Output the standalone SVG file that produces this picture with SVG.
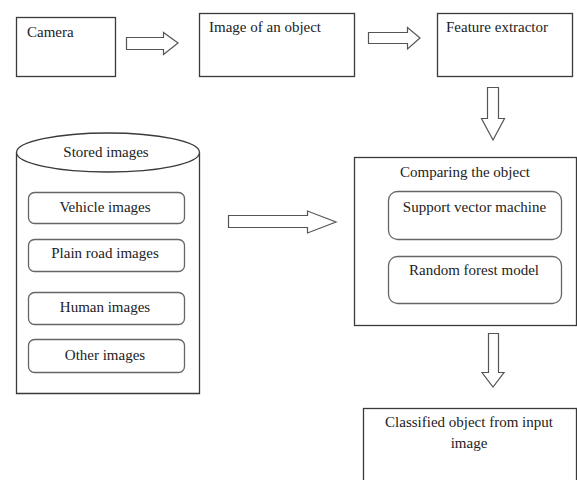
<svg xmlns="http://www.w3.org/2000/svg" width="577" height="480" viewBox="0 0 577 480">
  <style>
    .box { fill: #ffffff; stroke: #3a3a3a; stroke-width: 1.3; }
    .sub { fill: #ffffff; stroke: #666666; stroke-width: 1.3; }
    .arrow { fill: #ffffff; stroke: #555555; stroke-width: 1.2; stroke-linejoin: miter; }
    text { font-family: "Liberation Serif", "Times New Roman", serif; font-size: 15px; fill: #222222; }
    .c { text-anchor: middle; }
  </style>
  <rect width="577" height="480" fill="#ffffff"/>

  <!-- processing chain -->
  <g id="camera">
    <rect class="box" x="16.5" y="17.5" width="99" height="59"/>
    <text x="27" y="37">Camera</text>
  </g>
  <g id="image-of-object">
    <rect class="box" x="199.5" y="13.5" width="155" height="63"/>
    <text x="209" y="32">Image of an object</text>
  </g>
  <g id="feature-extractor">
    <rect class="box" x="437.5" y="13.5" width="135" height="63"/>
    <text x="446" y="32">Feature extractor</text>
  </g>

  <!-- image store drawn as a cylinder -->
  <g id="stored-images">
    <path class="box" d="M16.5,152.5 L16.5,393.5 L199.5,393.5 L199.5,152.5"/>
    <ellipse class="box" cx="108" cy="152.5" rx="91.5" ry="19.5"/>
    <text class="c" x="106" y="157">Stored images</text>
  </g>
  <g id="vehicle-images">
    <rect class="sub" x="28.5" y="192.5" width="156" height="31" rx="6"/>
    <text class="c" x="105" y="212">Vehicle images</text>
  </g>
  <g id="plain-road-images">
    <rect class="sub" x="28.5" y="239.5" width="156" height="32" rx="6"/>
    <text class="c" x="105" y="258">Plain road images</text>
  </g>
  <g id="human-images">
    <rect class="sub" x="28.5" y="292.5" width="156" height="32" rx="6"/>
    <text class="c" x="105" y="312">Human images</text>
  </g>
  <g id="other-images">
    <rect class="sub" x="28.5" y="339.5" width="156" height="33" rx="6"/>
    <text class="c" x="105" y="360">Other images</text>
  </g>

  <!-- comparison stage -->
  <g id="comparing-object">
    <rect class="box" x="354.5" y="157.5" width="222" height="168"/>
    <text class="c" x="465" y="177">Comparing the object</text>
  </g>
  <g id="svm">
    <rect class="sub" x="388.5" y="191.5" width="173" height="48" rx="9"/>
    <text class="c" x="474.5" y="212">Support vector machine</text>
  </g>
  <g id="random-forest">
    <rect class="sub" x="388.5" y="256.5" width="173" height="47" rx="9"/>
    <text class="c" x="474" y="275">Random forest model</text>
  </g>

  <g id="classified-object">
    <rect class="box" x="363.5" y="408.5" width="213" height="80"/>
    <text class="c" x="469" y="427">Classified object from input</text>
    <text class="c" x="469" y="448">image</text>
  </g>

  <!-- block arrows between stages -->
  <g id="connectors">
    <polygon class="arrow" points="126.5,37.5 163.5,37.5 163.5,32.5 178,43 163.5,54.5 163.5,49.5 126.5,49.5"/>
    <polygon class="arrow" points="368.5,32.5 407.5,32.5 407.5,27.5 420,38 407.5,49 407.5,43.5 368.5,43.5"/>
    <polygon class="arrow" points="487.5,87.5 498.5,87.5 498.5,118.5 504.5,118.5 493,140 481.5,118.5 487.5,118.5"/>
    <polygon class="arrow" points="228.5,215.5 307.5,215.5 307.5,211 336,222 307.5,233 307.5,227.5 228.5,227.5"/>
    <polygon class="arrow" points="488.5,333.5 498.5,333.5 498.5,372.5 504,372.5 493,387 482,372.5 488.5,372.5"/>
  </g>
</svg>
